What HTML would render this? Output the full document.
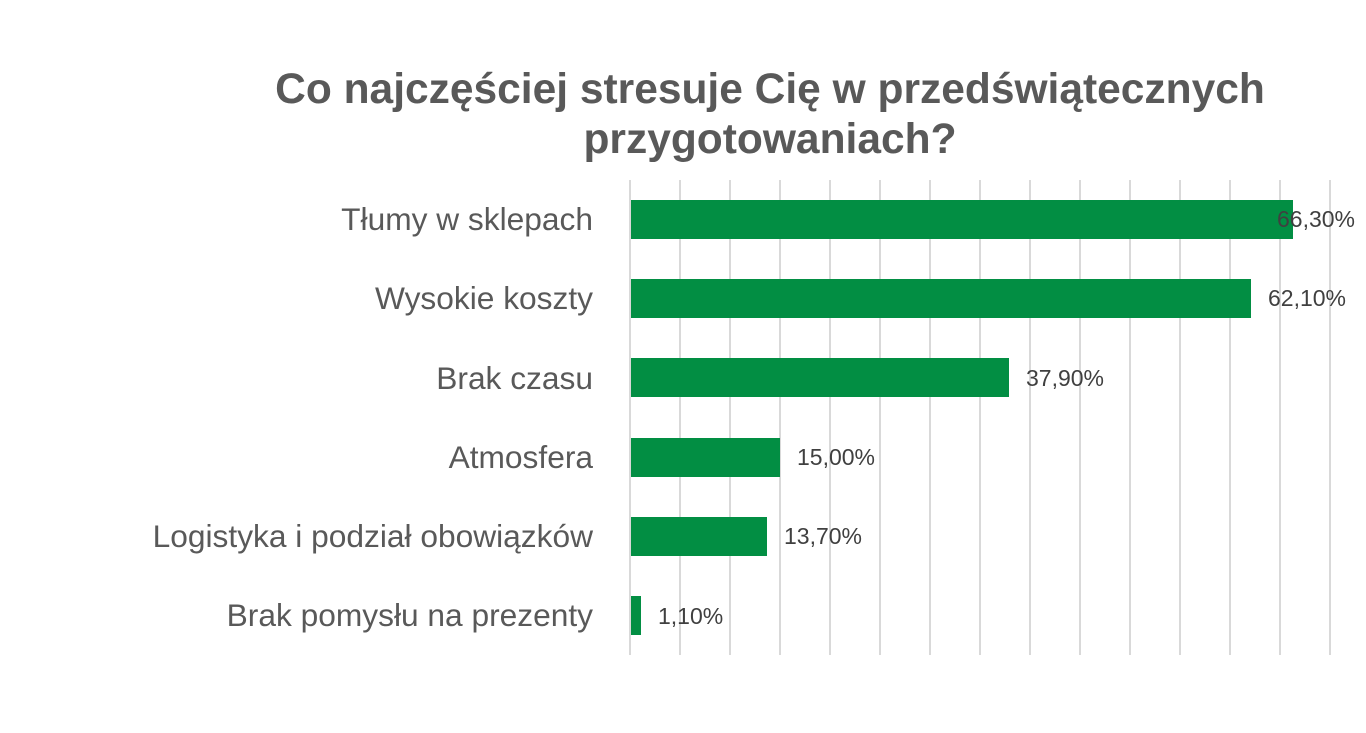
<!DOCTYPE html>
<html><head><meta charset="utf-8"><style>
html,body{margin:0;padding:0;background:#fff;}
body{width:1366px;height:728px;overflow:hidden;}
</style></head><body>
<svg width="1366" height="728" xmlns="http://www.w3.org/2000/svg" font-family="Liberation Sans, sans-serif">
<g fill="#595959" font-weight="bold" font-size="42.5" text-anchor="middle">
<text x="770" y="103">Co najczęściej stresuje Cię w przedświątecznych</text>
<text x="770" y="153">przygotowaniach?</text>
</g>
<g stroke="#d9d9d9" stroke-width="2">
<line x1="630" y1="180" x2="630" y2="655"/><line x1="680" y1="180" x2="680" y2="655"/>
<line x1="730" y1="180" x2="730" y2="655"/><line x1="780" y1="180" x2="780" y2="655"/>
<line x1="830" y1="180" x2="830" y2="655"/><line x1="880" y1="180" x2="880" y2="655"/>
<line x1="930" y1="180" x2="930" y2="655"/><line x1="980" y1="180" x2="980" y2="655"/>
<line x1="1030" y1="180" x2="1030" y2="655"/><line x1="1080" y1="180" x2="1080" y2="655"/>
<line x1="1130" y1="180" x2="1130" y2="655"/><line x1="1180" y1="180" x2="1180" y2="655"/>
<line x1="1230" y1="180" x2="1230" y2="655"/><line x1="1280" y1="180" x2="1280" y2="655"/>
<line x1="1330" y1="180" x2="1330" y2="655"/>
</g>
<g fill="#028e43">
<rect x="631" y="200" width="662" height="39"/>
<rect x="631" y="279" width="620" height="39"/>
<rect x="631" y="358" width="378" height="39"/>
<rect x="631" y="438" width="149" height="39"/>
<rect x="631" y="517" width="136" height="39"/>
<rect x="631" y="596" width="10" height="39"/>
</g>
<g fill="#595959" font-size="31.7" text-anchor="end">
<text x="593" y="230">Tłumy w sklepach</text>
<text x="593" y="309">Wysokie koszty</text>
<text x="593" y="389">Brak czasu</text>
<text x="593" y="468">Atmosfera</text>
<text x="593" y="547">Logistyka i podział obowiązków</text>
<text x="593" y="626">Brak pomysłu na prezenty</text>
</g>
<g fill="#404040" font-size="23">
<text x="1277" y="227">66,30%</text>
<text x="1268" y="306">62,10%</text>
<text x="1026" y="386">37,90%</text>
<text x="797" y="465">15,00%</text>
<text x="784" y="544">13,70%</text>
<text x="658" y="624">1,10%</text>
</g>
</svg>
</body></html>
